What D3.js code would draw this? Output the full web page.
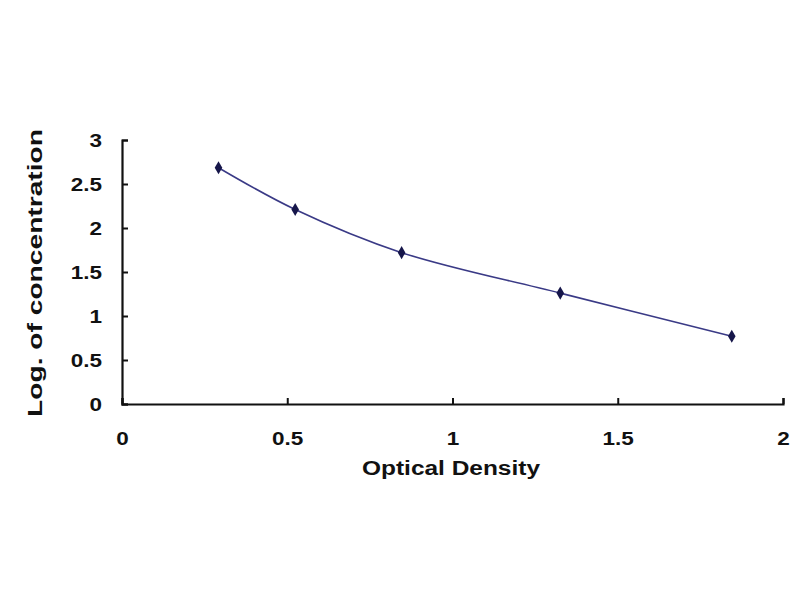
<!DOCTYPE html>
<html><head><meta charset="utf-8">
<script src="https://cdn.jsdelivr.net/npm/d3@7"></script>
<style>html,body{margin:0;padding:0;background:#fff;}svg{display:block;}</style>
</head><body>
<script>
const odValues = [0.292, 0.524, 0.846, 1.326, 1.845];
const logConc = [2.685, 2.21, 1.72, 1.26, 0.77];
const xTicks = [0, 0.5, 1, 1.5, 2];
const yTicks = [0, 0.5, 1, 1.5, 2, 2.5, 3];
const xTitle = "Optical Density";
const yTitle = "Log. of concentration";

const W = 800, H = 600;
const svg = d3.select("body").append("svg").attr("width", W).attr("height", H);
const x = d3.scaleLinear().domain([0, 2]).range([122, 783]);
const y = d3.scaleLinear().domain([0, 3]).range([404, 140]);
const font = "'Liberation Sans', Arial, sans-serif";
const sx = 1.25;

// x axis
const gx = svg.append("g").attr("transform", `translate(0,${y(0)})`)
  .call(d3.axisBottom(x).tickValues(xTicks).tickSize(-6).tickPadding(0).tickFormat(d3.format("")));
gx.select(".domain").attr("stroke", "#111").attr("stroke-width", 2.2);
gx.selectAll(".tick line").attr("stroke", "#111").attr("stroke-width", 2);
gx.selectAll(".tick text").attr("y", 0).attr("dy", 0)
  .attr("transform", `translate(0,41) scale(${sx},1)`)
  .attr("font-family", font).attr("font-weight", "bold").attr("font-size", 18).attr("fill", "#111");

// y axis
const gy = svg.append("g").attr("transform", `translate(${x(0)},0)`)
  .call(d3.axisLeft(y).tickValues(yTicks).tickSize(-6).tickPadding(0).tickFormat(d3.format("")));
gy.select(".domain").attr("stroke", "#111").attr("stroke-width", 2.2);
gy.selectAll(".tick line").attr("stroke", "#111").attr("stroke-width", 2);
gy.selectAll(".tick text").attr("x", 0).attr("dy", "0.35em")
  .attr("transform", `translate(-20,0) scale(${sx},1)`)
  .attr("font-family", font).attr("font-weight", "bold").attr("font-size", 18).attr("fill", "#111");

// curve
const pts = odValues.map((v, i) => [v, logConc[i]]);
const line = d3.line().x(d => x(d[0])).y(d => y(d[1])).curve(d3.curveCatmullRom.alpha(0.5));
svg.append("path").datum(pts).attr("d", line)
  .attr("fill", "none").attr("stroke", "#3a3a86").attr("stroke-width", 1.6);

svg.selectAll("path.pt").data(pts).enter().append("path").attr("class", "pt")
  .attr("d", d3.symbol().type(d3.symbolDiamond).size(50))
  .attr("transform", d => `translate(${x(d[0])},${y(d[1])})`)
  .attr("fill", "#16164a");

// titles
svg.append("text").attr("x", 451).attr("y", 475).attr("text-anchor", "middle")
  .attr("font-family", font).attr("font-weight", "bold").attr("font-size", 20)
  .attr("textLength", 178).attr("lengthAdjust", "spacingAndGlyphs")
  .attr("fill", "#111").text(xTitle);
svg.append("text").attr("transform", "translate(42,273) rotate(-90)").attr("text-anchor", "middle")
  .attr("font-family", font).attr("font-weight", "bold").attr("font-size", 20)
  .attr("textLength", 288).attr("lengthAdjust", "spacingAndGlyphs")
  .attr("fill", "#111").text(yTitle);
</script>
</body></html>
